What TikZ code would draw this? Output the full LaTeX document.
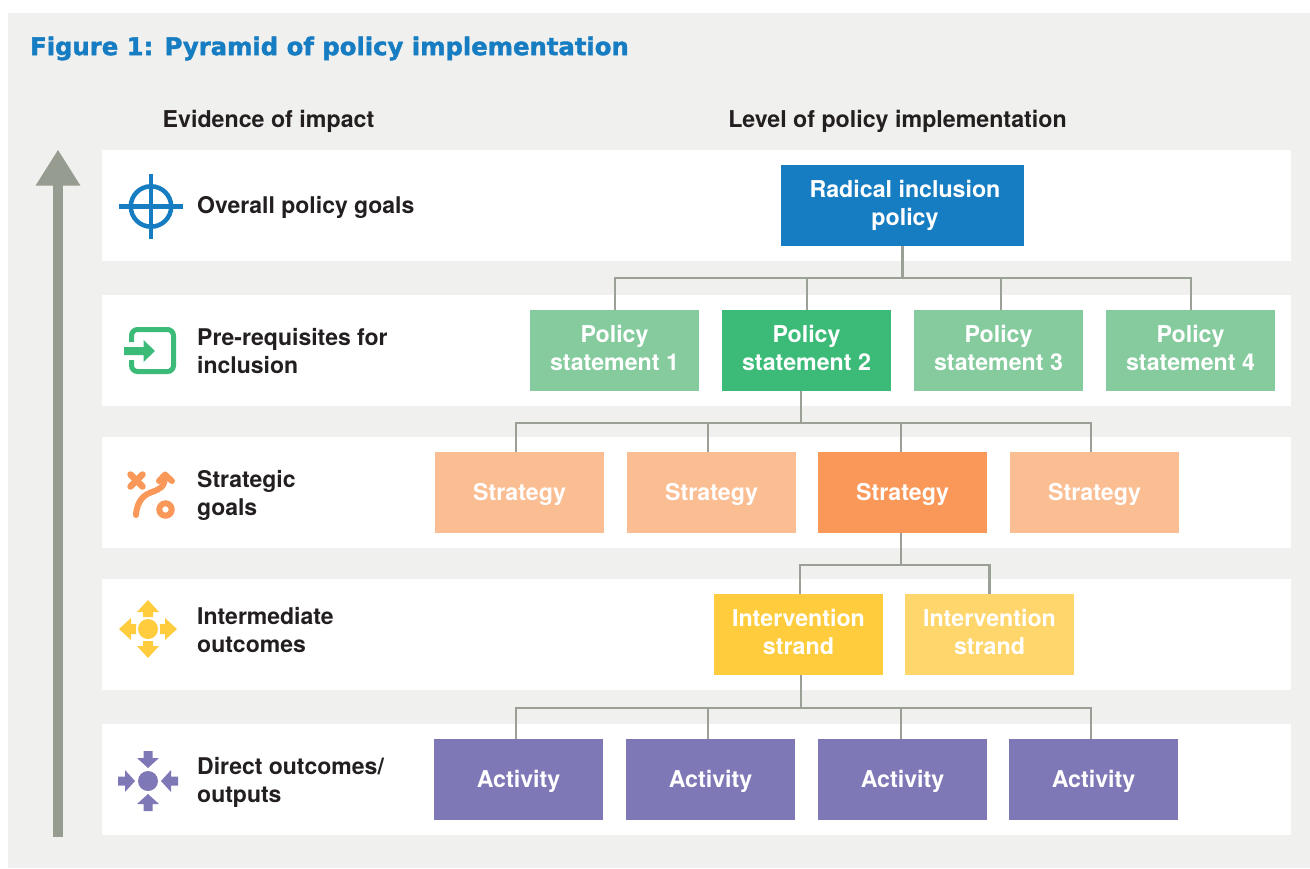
\documentclass[tikz,border=0pt]{standalone}
\usepackage{fontspec}
\setmainfont{TeX Gyre Heros}
\newfontfamily\titlefont[BoldFeatures={FakeBold=1.6}]{DejaVu Sans}
\usetikzlibrary{arrows.meta}
\definecolor{panelgrey}{HTML}{F0F0EE}
\definecolor{arrowgrey}{HTML}{969C8F}
\definecolor{linegrey}{HTML}{9AA096}
\definecolor{inkdark}{HTML}{231F20}
\definecolor{policyblue}{HTML}{177DC2}
\definecolor{greenlight}{HTML}{85CB9D}
\definecolor{greendark}{HTML}{3CBB78}
\definecolor{orangelight}{HTML}{FBBD92}
\definecolor{orangedark}{HTML}{F99858}
\definecolor{yellowdark}{HTML}{FFCC3D}
\definecolor{yellowlight}{HTML}{FFD66B}
\definecolor{activitypurple}{HTML}{7F78B7}
\tikzset{
    rowband/.style={fill=white,draw=none,minimum width=1189pt,minimum height=111pt,inner sep=0pt},
    levelbox/.style={minimum width=169pt,minimum height=81pt,inner sep=0pt,align=center,text=white,
        font=\fontsize{23.2}{28}\selectfont\bfseries,
        execute at begin node=\strut,execute at end node=\strut},
    textdrop/.style={execute at begin node={\rule{0pt}{\dimexpr19.6pt+2\dimexpr#1\relax\relax}}},
    rowlabel/.style={anchor=west,inner sep=0pt,align=left,text=inkdark,
        font=\fontsize{23}{28}\selectfont\bfseries,
        execute at begin node=\strut,execute at end node=\strut},
    headlabel/.style={inner sep=0pt,text=inkdark,font=\fontsize{23.2}{28}\selectfont\bfseries,
        execute at begin node=\strut,execute at end node=\strut},
    link/.style={draw=linegrey,line width=2.6pt},
}
\begin{document}
\begin{tikzpicture}[x=1pt,y=-1pt]
        \useasboundingbox (0,0) rectangle (1310,868);
        \fill[white] (0,0) rectangle (1310,868);
        \fill[panelgrey] (8,13) rectangle (1310,868);

        \node[anchor=west,inner sep=0pt,text=policyblue,font=\titlefont\fontsize{24.3}{30}\selectfont\bfseries] (title) at (30,48.5) {Figure 1: Pyramid of policy implementation};
        \node[headlabel] (evidence) at (268.5,122) {Evidence of impact};
        \node[headlabel] (level) at (897.5,122) {Level of policy implementation};

        % white rows
        \node[rowband] (row1) at (696.5,205.5) {};
        \node[rowband] (row2) at (696.5,350.5) {};
        \node[rowband] (row3) at (696.5,492.5) {};
        \node[rowband] (row4) at (696.5,634.5) {};
        \node[rowband] (row5) at (696.5,779.5) {};

        % rising arrow
        \coordinate (arrowtail) at (58,837);
        \coordinate (arrowtip) at (58,149.5);
        \draw[arrowgrey,line width=10pt,-{Triangle[length=36pt,width=42pt]}] (arrowtail) -- (arrowtip);

        % row labels
        \node[rowlabel] (goals) at (197,208) {Overall policy goals};
        \node[rowlabel] (prereq) at (197,354) {Pre-requisites for\strut\\inclusion};
        \node[rowlabel] (strategic) at (197,496) {Strategic\strut\\goals};
        \node[rowlabel] (intermediate) at (197,633) {Intermediate\strut\\outcomes};
        \node[rowlabel] (direct) at (197,783) {Direct outcomes/\strut\\outputs};

        % boxes
        \node[levelbox,fill=policyblue,minimum width=243pt] (radical) at (902.5,205.5) {\hspace*{5pt}Radical inclusion\strut\\\hspace*{5pt}policy};

        \node[levelbox,fill=greenlight] (ps1) at (614.5,350.5) {Policy\strut\\statement 1};
        \node[levelbox,fill=greendark] (ps2) at (806.5,350.5) {Policy\strut\\statement 2};
        \node[levelbox,fill=greenlight] (ps3) at (998.5,350.5) {Policy\strut\\statement 3};
        \node[levelbox,fill=greenlight] (ps4) at (1190.5,350.5) {Policy\strut\\statement 4};

        \node[levelbox,textdrop=2pt,fill=orangelight] (st1) at (519.5,492.5) {Strategy};
        \node[levelbox,textdrop=2pt,fill=orangelight] (st2) at (711.5,492.5) {Strategy};
        \node[levelbox,textdrop=2pt,fill=orangedark] (st3) at (902.5,492.5) {Strategy};
        \node[levelbox,textdrop=2pt,fill=orangelight] (st4) at (1094.5,492.5) {Strategy};

        \node[levelbox,textdrop=6pt,fill=yellowdark] (iv1) at (798.5,634.5) {Intervention\strut\\strand};
        \node[levelbox,textdrop=6pt,fill=yellowlight] (iv2) at (989.5,634.5) {Intervention\strut\\strand};

        \node[levelbox,textdrop=2pt,fill=activitypurple] (ac1) at (518.5,779.5) {Activity};
        \node[levelbox,textdrop=2pt,fill=activitypurple] (ac2) at (710.5,779.5) {Activity};
        \node[levelbox,textdrop=2pt,fill=activitypurple] (ac3) at (902.5,779.5) {Activity};
        \node[levelbox,textdrop=2pt,fill=activitypurple] (ac4) at (1093.5,779.5) {Activity};

        % connectors
        \coordinate (bus1) at (902.5,278);
        \draw[link] (radical.south) -- (bus1);
        \draw[link] ([xshift=0.5pt]ps1.north) |- (bus1);
        \draw[link] ([xshift=0.5pt]ps2.north) |- (bus1);
        \draw[link] ([xshift=2.5pt]ps3.north) |- (bus1);
        \draw[link] ([xshift=0.5pt]ps4.north) |- (bus1);

        \coordinate (bus2) at (801,423);
        \draw[link] ([xshift=-5.5pt]ps2.south) -- (bus2);
        \draw[link] ([xshift=-3.5pt]st1.north) |- (bus2);
        \draw[link] ([xshift=-3.5pt]st2.north) |- (bus2);
        \draw[link] ([xshift=-1.5pt]st3.north) |- (bus2);
        \draw[link] ([xshift=-3.5pt]st4.north) |- (bus2);

        \coordinate (bus3) at (901,565);
        \draw[link] ([xshift=-1.5pt]st3.south) -- (bus3);
        \draw[link] ([xshift=1.5pt]iv1.north) |- (bus3);
        \draw[link] (iv2.north) |- (bus3);

        \coordinate (bus4) at (801,708);
        \draw[link] ([xshift=2.5pt]iv1.south) -- (bus4);
        \draw[link] ([xshift=-2.5pt]ac1.north) |- (bus4);
        \draw[link] ([xshift=-2.5pt]ac2.north) |- (bus4);
        \draw[link] ([xshift=-1.5pt]ac3.north) |- (bus4);
        \draw[link] ([xshift=-2.5pt]ac4.north) |- (bus4);

        % target icon
        \draw[policyblue,line width=4.5pt] (151,206.5) circle (20.2pt);
        \draw[policyblue,line width=4.5pt] (118.5,206.5) -- (183,206.5);
        \draw[policyblue,line width=4.5pt] (151,174) -- (151,239);

        % entry icon
        \draw[greendark,line width=5pt,rounded corners=6pt] (131.5,342) -- (131.5,329.5) -- (173.5,329.5) -- (173.5,371.5) -- (131.5,371.5) -- (131.5,360);
        \fill[greendark] (124,347) -- (143.5,347) -- (143.5,340) -- (155,351) -- (143.5,362) -- (143.5,355) -- (124,355) -- cycle;

        % route icon
        \draw[orangedark,line width=6.5pt,line cap=round] (130.5,474.5) -- (142.5,486.5);
        \draw[orangedark,line width=6.5pt,line cap=round] (142.5,474.5) -- (130.5,486.5);
        \draw[orangedark,line width=6pt,line cap=round] (136,515) .. controls (137,499) and (146,494) .. (152,492) .. controls (160,489) and (165,487) .. (165,476);
        \draw[orangedark,line width=6pt,line cap=round,line join=round] (159,481) -- (165,474.5) -- (172,481);
        \draw[orangedark,line width=6pt] (165.5,509.5) circle (6.2pt);

        % outward arrows icon
        \fill[yellowdark] (148,629) circle (10pt);
        \begin{scope}[shift={(148,629)}]
            \foreach \a in {0,90,180,270} {
                \fill[yellowdark,rotate=\a] (-5,-12) -- (-5,-17) -- (-11,-17) -- (0,-29) -- (11,-17) -- (5,-17) -- (5,-12) -- cycle;
            }
        \end{scope}

        % inward arrows icon
        \fill[activitypurple] (148,781) circle (10pt);
        \begin{scope}[shift={(148,781)}]
            \foreach \a in {0,90,180,270} {
                \fill[activitypurple,rotate=\a] (-4.5,-30) -- (-4.5,-23) -- (-11,-23) -- (0,-13) -- (11,-23) -- (4.5,-23) -- (4.5,-30) -- cycle;
            }
        \end{scope}
    \end{tikzpicture}
\end{document}
